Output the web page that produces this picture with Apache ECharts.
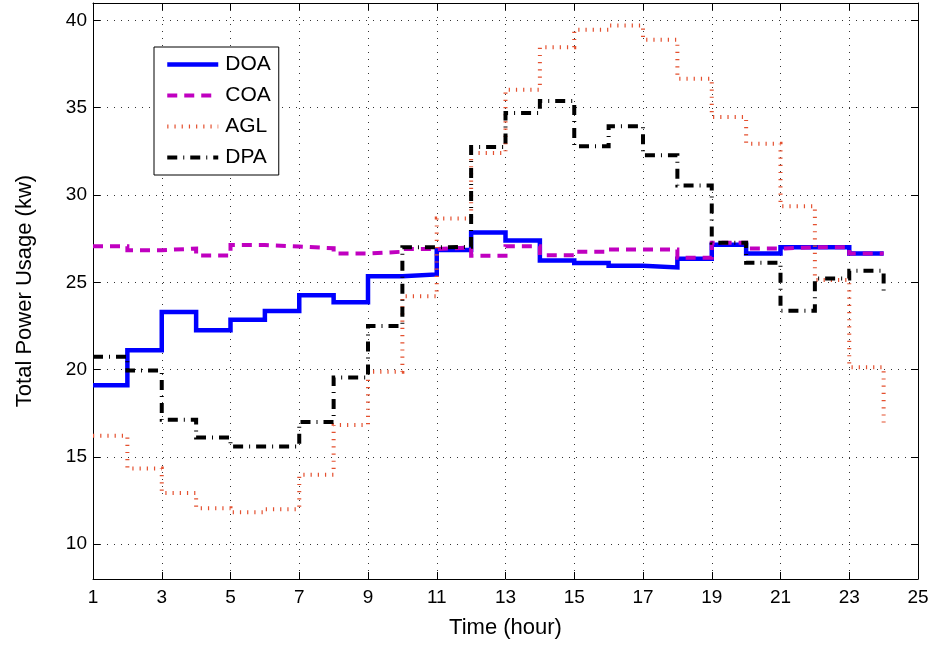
<!DOCTYPE html>
<html>
<head>
<meta charset="utf-8">
<title>Total Power Usage</title>
<script src="https://cdn.jsdelivr.net/npm/echarts@6/dist/echarts.min.js"></script>
<style>
  html, body { margin: 0; padding: 0; background: #fff; }
  #chart { width: 934px; height: 648px; }
</style>
</head>
<body>
<div id="chart"></div>
<script>
// Hourly total power usage (kW) for the four schemes
const hours = [1, 2, 3, 4, 5, 6, 7, 8, 9, 10, 11, 12, 13, 14, 15, 16, 17, 18, 19, 20, 21, 22, 23, 24];
const doa = [19.1, 21.1, 23.3, 22.25, 22.85, 23.35, 24.25, 23.85, 25.35, 25.45, 26.85, 27.85,
             27.4, 26.25, 26.1, 25.95, 25.85, 26.35, 27.15, 26.65, 27.0, 27.0, 26.65, 26.65];
const coa = [27.07, 26.84, 26.93, 26.54, 27.13, 27.05, 26.95, 26.65, 26.75, 26.9, 27.0, 26.52,
             27.07, 26.55, 26.75, 26.88, 26.88, 26.4, 27.26, 26.93, 27.0, 27.0, 26.65, 26.65];
const agl = [16.2, 14.33, 12.92, 12.06, 11.83, 12.0, 13.97, 16.83, 19.88, 24.2, 28.65, 32.4,
             36.03, 38.47, 39.47, 39.71, 38.89, 36.66, 34.47, 32.94, 29.36, 25.13, 20.13, 16.96];
const dpa = [20.74, 19.94, 17.12, 16.1, 15.59, 15.59, 17.0, 19.54, 22.5, 27.0, 27.03, 32.75,
             34.7, 35.38, 32.79, 33.94, 32.28, 30.54, 27.26, 26.12, 23.37, 25.22, 25.66, 24.36];
const seriesNames = ['DOA', 'COA', 'AGL', 'DPA'];
const xTicks = [1, 3, 5, 7, 9, 11, 13, 15, 17, 19, 21, 23, 25];
const yTicks = [10, 15, 20, 25, 30, 35, 40];

const FONT = 'Liberation Sans, Arial, sans-serif';
const pairs = vals => hours.map((h, i) => [h, vals[i]]);

const gridLine = { show: true, lineStyle: { color: '#333', width: 1, type: [1, 6] } };
const axisLine = { show: true, onZero: false, lineStyle: { color: '#000', width: 1 } };
const tickIn = { show: true, inside: true, length: 7, lineStyle: { color: '#000', width: 1 } };

// Staircase line: each hour's value is held until the next hour
function stairs(name, vals, color, width, dash) {
  return {
    name: name,
    type: 'line',
    step: 'end',
    data: pairs(vals),
    symbol: 'circle',
    showSymbol: false,
    animation: false,
    lineStyle: { color: color, width: width, type: dash, cap: 'butt', join: 'miter' },
    itemStyle: { color: color }
  };
}

const chart = echarts.init(document.getElementById('chart'), null, { renderer: 'canvas' });
chart.setOption({
  backgroundColor: '#fff',
  animation: false,
  grid: { left: 93, right: 16, top: 3, bottom: 69, containLabel: false },
  legend: {
    data: seriesNames,
    orient: 'vertical',
    left: 154,
    top: 47,
    padding: [7, 8, 7, 11],
    itemWidth: 51,
    itemHeight: 20,
    itemGap: 10,
    backgroundColor: '#fff',
    borderColor: '#000',
    borderWidth: 1,
    borderRadius: 0,
    itemStyle: { opacity: 0 },
    lineStyle: { width: 'inherit', type: 'inherit' },
    textStyle: { fontFamily: FONT, fontSize: 21, color: '#000', padding: [0, 0, 0, 2] }
  },
  xAxis: [
    {
      type: 'value', min: 1, max: 25,
      name: 'Time (hour)', nameLocation: 'middle', nameGap: 38,
      nameTextStyle: { fontFamily: FONT, fontSize: 22, color: '#000' },
      axisLine: axisLine, axisTick: Object.assign({ customValues: xTicks }, tickIn),
      axisLabel: { customValues: xTicks, fontFamily: FONT, fontSize: 19, color: '#000', margin: 9 },
      splitLine: gridLine
    },
    {
      type: 'value', min: 1, max: 25, position: 'top',
      axisLine: axisLine, axisTick: Object.assign({ customValues: xTicks }, tickIn),
      axisLabel: { show: false, customValues: xTicks }, splitLine: { show: false }
    }
  ],
  yAxis: [
    {
      type: 'value', min: 8, max: 41,
      name: 'Total Power Usage (kw)', nameLocation: 'middle', nameGap: 57,
      nameTextStyle: { fontFamily: FONT, fontSize: 22, color: '#000' },
      axisLine: axisLine, axisTick: Object.assign({ customValues: yTicks }, tickIn),
      axisLabel: { customValues: yTicks, fontFamily: FONT, fontSize: 19, color: '#000', margin: 6 },
      splitLine: gridLine
    },
    {
      type: 'value', min: 8, max: 41, position: 'right',
      axisLine: axisLine, axisTick: Object.assign({ customValues: yTicks }, tickIn),
      axisLabel: { show: false, customValues: yTicks }, splitLine: { show: false }
    }
  ],
  series: [
    stairs('DOA', doa, '#0000ff', 4.5, 'solid'),
    stairs('COA', coa, '#c000c0', 4, [10, 7]),
    stairs('AGL', agl, '#e4502f', 4, [1.2, 6]),
    stairs('DPA', dpa, '#000000', 4, [10, 6, 1, 6])
  ]
});
</script>
</body>
</html>
